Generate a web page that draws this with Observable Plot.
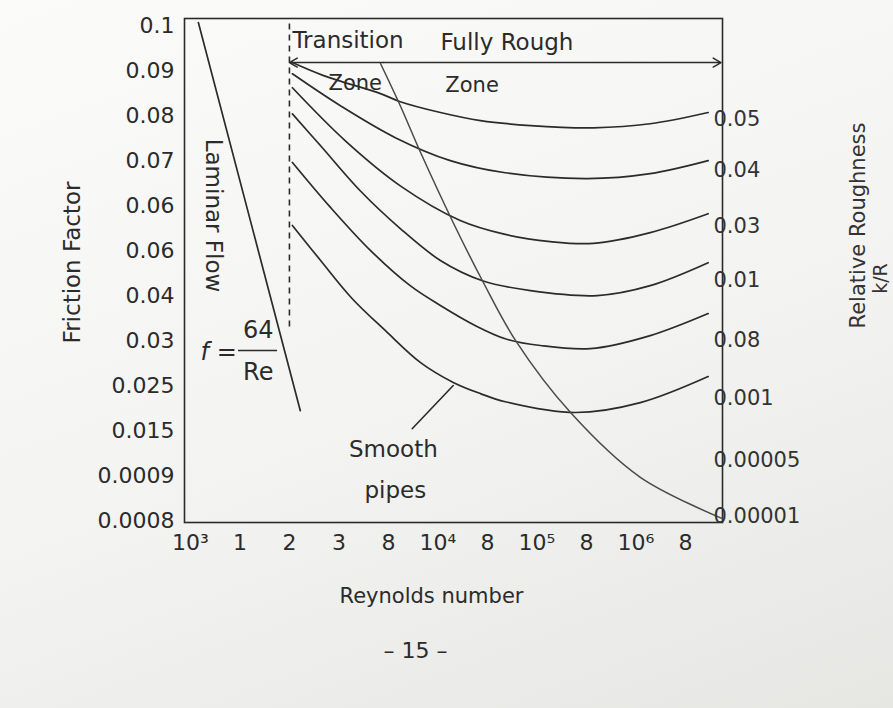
<!DOCTYPE html>
<html>
<head>
<meta charset="utf-8">
<script src="https://cdn.jsdelivr.net/npm/d3@7"></script>
<script src="https://cdn.jsdelivr.net/npm/@observablehq/plot@0.6"></script>
<style>
  html, body { margin: 0; padding: 0; }
  body { width: 893px; height: 708px; overflow: hidden;
         background: linear-gradient(160deg, #fbfbfa 0%, #f3f3f1 55%, #e6e6e3 100%); }
  #chart svg { display: block; }
</style>
</head>
<body>
<div id="chart"></div>
<script>
// ---- axis tick labels (x and y are in "tick index" units of the drawing) ----
const xTickLabels = ["10³", "1", "2", "3", "8", "10⁴", "8", "10⁵", "8", "10⁶", "8"];
const yTickLabels = ["0.0008", "0.0009", "0.015", "0.025", "0.03", "0.04",
                     "0.06", "0.06", "0.07", "0.08", "0.09", "0.1"];

// ---- relative roughness labels on the right and their levels ----
const roughLabels = ["0.05", "0.04", "0.03", "0.01", "0.08", "0.001", "0.00005", "0.00001"];
const roughLevels = [8.93, 7.78, 6.53, 5.33, 4.0, 2.71, 1.33, 0.09];

// ---- curves: [Re (tick index), friction factor (tick index)] ----
const curve005 = [[2.06,10.18],[2.69,9.89],[3.84,9.49],[4.24,9.31],[5.05,9.07],[5.86,8.89],
                  [6.87,8.78],[8.14,8.73],[9.29,8.82],[10.46,9.07]];
const curve004 = [[2.06,9.93],[3.03,9.22],[4.14,8.51],[5.25,8.0],[6.36,7.73],
                  [8.02,7.6],[9.29,7.71],[10.46,8.0]];
const curve003 = [[2.06,9.62],[3.13,8.44],[4.24,7.44],[5.45,6.67],[6.36,6.36],[7.27,6.2],
                  [8.14,6.16],[9.29,6.4],[10.46,6.82]];
const curve001 = [[2.06,9.04],[2.63,8.33],[3.43,7.33],[4.24,6.49],[5.05,5.78],[5.90,5.33],
                  [6.87,5.11],[8.22,5.0],[9.29,5.22],[10.46,5.73]];
const curve008 = [[2.06,7.96],[2.83,6.96],[3.64,6.0],[4.44,5.22],[5.05,4.78],[5.76,4.33],
                  [6.36,4.04],[7.07,3.89],[8.08,3.82],[9.29,4.11],[10.46,4.6]];
const smoothPipes = [[2.06,6.56],[2.63,5.78],[3.27,4.93],[3.94,4.22],[4.65,3.51],[5.31,3.07],
                     [5.86,2.82],[6.36,2.64],[7.78,2.4],[9.09,2.62],[10.46,3.2]];
const fullyRoughBoundary = [[3.84,10.16],[4.24,9.22],[4.65,8.18],[5.31,6.62],[5.90,5.33],
                            [6.57,4.0],[7.68,2.4],[9.09,0.96],[10.75,0.04]];
const laminar = [[0.16,11.07],[2.22,2.44]];
const criticalRe = 2.0;          // Re = 2×10³, start of transition
const criticalTop = 4.3;         // lower end of the dashed line
const zoneArrowLevel = 10.18;    // level of the zone arrows
const zoneSplit = 3.9;           // transition / fully rough split on the arrow
const smoothPointer = [[4.48,2.04],[5.31,3.0]];

const curves = [
  ["0.05", curve005], ["0.04", curve004], ["0.03", curve003],
  ["0.01", curve001], ["0.08", curve008], ["smooth", smoothPipes]
];
const curveRows = curves.flatMap(([name, pts]) => pts.map(([x, y]) => ({name, x, y})));

const ink = "#2b2b2b";
const font = "DejaVu Sans";

const chart = Plot.plot({
  width: 893,
  height: 708,
  marginLeft: 184,
  marginRight: 171,
  marginTop: 18,
  marginBottom: 186,
  style: {fontFamily: font, fontSize: "22px", color: ink, background: "transparent", overflow: "visible"},
  x: {domain: [-0.12, 10.75], ticks: d3.range(xTickLabels.length), tickFormat: d => xTickLabels[d],
      tickSize: 0, tickPadding: 12, label: null},
  y: {domain: [-0.045, 11.16], ticks: d3.range(yTickLabels.length), tickFormat: d => yTickLabels[d],
      tickSize: 0, tickPadding: 10, label: null},
  marks: [
    Plot.frame({stroke: ink, strokeWidth: 1.6}),
    // laminar line
    Plot.line(laminar, {x: d => d[0], y: d => d[1], stroke: ink, strokeWidth: 1.7}),
    // dashed critical line
    Plot.ruleX([criticalRe], {y1: criticalTop, y2: 11.16, stroke: ink, strokeWidth: 1.6, strokeDasharray: "6,5"}),
    // zone arrows
    Plot.arrow([{x1: zoneSplit, x2: criticalRe, y: zoneArrowLevel}, {x1: zoneSplit, x2: 10.72, y: zoneArrowLevel}],
      {x1: "x1", x2: "x2", y1: "y", y2: "y", stroke: ink, strokeWidth: 1.5, headLength: 9}),
    // roughness curves and smooth pipe curve
    Plot.line(curveRows, {x: "x", y: "y", z: "name", curve: "catmull-rom", stroke: ink, strokeWidth: 1.7}),
    // boundary between transition and fully rough zones
    Plot.line(fullyRoughBoundary, {x: d => d[0], y: d => d[1], curve: "catmull-rom", stroke: "#4a4a4a", strokeWidth: 1.5}),
    // pointer to smooth pipes
    Plot.line(smoothPointer, {x: d => d[0], y: d => d[1], stroke: ink, strokeWidth: 1.6}),
    // zone labels
    Plot.text(["Transition"], {x: criticalRe, y: 10.67, text: d => d, textAnchor: "start", dx: 3, fontSize: 23}),
    Plot.text(["Zone"], {x: 3.33, y: 9.71, text: d => d, fontSize: 21}),
    Plot.text(["Fully Rough"], {x: 5.05, y: 10.62, text: d => d, textAnchor: "start", fontSize: 23}),
    Plot.text(["Zone"], {x: 5.15, y: 9.67, text: d => d, textAnchor: "start", fontSize: 21}),
    Plot.text(["Laminar Flow"], {x: 0.46, y: 6.78, text: d => d, rotate: 90, fontSize: 23}),
    // f = 64/Re
    Plot.text(["f ="], {x: 0.57, y: 3.73, text: d => d, fontSize: 24, fontStyle: "italic"}),
    Plot.text(["64"], {x: 1.37, y: 4.22, text: d => d, fontSize: 24}),
    Plot.text(["Re"], {x: 1.37, y: 3.29, text: d => d, fontSize: 24}),
    Plot.ruleY([3.78], {x1: 0.97, x2: 1.76, stroke: ink, strokeWidth: 1.4}),
    // smooth pipes label
    Plot.text(["Smooth"], {x: 4.1, y: 1.58, text: d => d, fontSize: 23}),
    Plot.text(["pipes"], {x: 4.14, y: 0.67, text: d => d, fontSize: 23}),
    // relative roughness labels
    Plot.text(roughLabels, {frameAnchor: "right", y: (d, i) => roughLevels[i], text: d => d,
      textAnchor: "start", dx: -9, fontSize: 21, fill: "#333"}),
    // titles
    Plot.text(["Friction Factor"], {frameAnchor: "left", dx: -112, dy: -8, rotate: -90, textAnchor: "middle",
      text: d => d, fontSize: 23}),
    Plot.text(["Reynolds number"], {frameAnchor: "bottom", dy: 80, dx: -22, textAnchor: "middle",
      text: d => d, fontSize: 21}),
    Plot.text(["– 15 –"], {frameAnchor: "bottom", dy: 135, dx: -38, textAnchor: "middle", text: d => d, fontSize: 22}),
    Plot.text(["Relative Roughness"], {frameAnchor: "right", dx: 136, dy: -45, rotate: -90, textAnchor: "middle",
      text: d => d, fontSize: 21, fill: "#333"}),
    Plot.text(["k/R"], {frameAnchor: "right", dx: 158, dy: 8, rotate: -90, textAnchor: "middle",
      text: d => d, fontSize: 19, fill: "#333"})
  ]
});
document.getElementById("chart").append(chart);
</script>
</body>
</html>
